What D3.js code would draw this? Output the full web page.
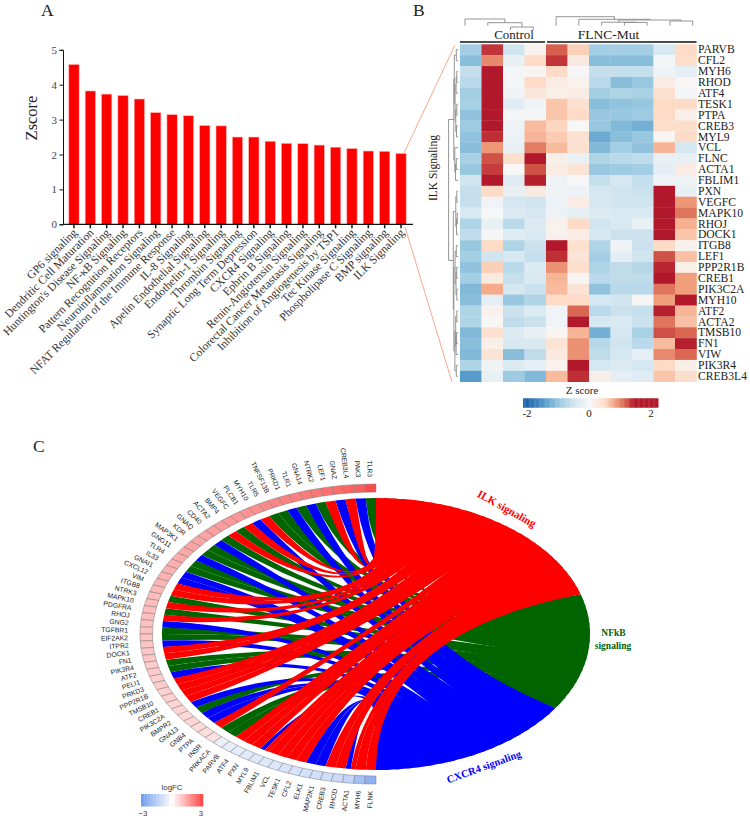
<!DOCTYPE html>
<html><head><meta charset="utf-8">
<script src="https://cdnjs.cloudflare.com/ajax/libs/d3/7.8.5/d3.min.js"></script>
<style>html,body{margin:0;padding:0;background:#fff}svg{display:block}</style>
</head><body><svg id="c" width="750" height="819"></svg>
<script>
// ---------- Panel A data ----------
const pathways = ["GP6 signaling","Dendritic Cell Maturation","Huntington's Disease Signaling","NF-κB Signaling","Pattern Recognition Receptors","Neuroinflammation Signaling","NFAT Regulation of the Immune Response","IL-8 Signaling","Apelin Endothelial Signaling","Endothelin-1 Signaling","Thrombin Signaling","Synaptic Long Term Depression","CXCR4 Signaling","Ephrin B Signaling","Renin-Angiotensin Signaling","Colorectal Cancer Metastasis Signaling","Inhibition of Angiogenesis by TSP1","Tec Kinase Signaling","Phospholipase C Signaling","BMP signaling","ILK Signaling"];
const zscores = [4.58,3.82,3.73,3.69,3.59,3.2,3.14,3.11,2.83,2.82,2.5,2.5,2.38,2.32,2.31,2.27,2.21,2.17,2.1,2.09,2.03];
// ---------- Panel B data ----------
const heatGenes = ["PARVB","CFL2","MYH6","RHOD","ATF4","TESK1","PTPA","CREB3","MYL9","VCL","FLNC","ACTA1","FBLIM1","PXN","VEGFC","MAPK10","RHOJ","DOCK1","ITGB8","LEF1","PPP2R1B","CREB1","PIK3C2A","MYH10","ATF2","ACTA2","TMSB10","FN1","VIW","PIK3R4","CREB3L4"];
const heatValues = [
[-.9,1.8,-.5,.1,1.5,.6,-.9,-.9,-.9,-.4,.5],
[-1.1,1.2,-.2,.5,1.8,.25,-1.1,-1.1,-1.1,-.05,.45],
[-.6,2.2,-.05,.05,.5,0,-.6,-.6,-.6,-.1,-.25],
[-.7,2.2,-.05,.5,.2,.1,-.7,-1.1,-1,.2,.02],
[-.9,2.2,-.1,.3,.15,.2,-.9,-.8,-.85,.4,-.05],
[-.85,2.2,-.3,-.1,.7,.4,-1.1,-1.05,-1,.5,.5],
[-1.05,2.2,-.05,-.05,.7,.5,-1,-1,-.95,.5,.15],
[-.95,2.2,-.15,.8,.55,0,-1,-1.15,-1.25,.45,.45],
[-1.05,1.85,-.15,.85,.65,.4,-1.3,-1.1,-1,.05,.5],
[-1.1,1.1,-.2,1.3,.8,.4,-1.15,-.9,-1.05,.85,-.45],
[-.85,1.6,.45,2.1,.15,-.2,-.8,-.7,-.65,-.2,-.2],
[-1,1.75,0,1.6,.2,.35,-1,-.95,-.9,-.25,.2],
[-.5,2.1,-.3,1.95,-.1,0,-.6,-.45,-.6,-.1,-.1],
[-.6,.5,-.2,.25,-.1,-.15,-.45,-.5,-.55,2.2,-.2],
[-.6,-.1,-.45,-.5,-.15,.2,-.45,-.5,-.5,2.2,1.1],
[-.4,-.02,-.35,-.45,-.15,-.25,-.35,-.4,-.4,2.2,1.35],
[-.8,-.2,-.7,-.35,.12,.5,-.5,-.4,-.2,2.2,.9],
[-.65,-.05,-.3,-.4,.1,.2,-.45,-.55,-.55,2.2,.7],
[-1,.5,-.8,-.55,2.2,.4,-.8,-.1,-.55,.5,.1],
[-.9,-.5,-.4,-.6,1.85,.35,-.9,-.25,-.5,1.6,.75],
[-1.05,.6,-.7,-.35,1.15,.45,-.8,-.65,-.75,1.9,.15],
[-.9,.25,-.6,-.4,.85,.05,-.7,-.65,-.65,2.1,1.05],
[-1.15,.95,-.45,-.55,.8,.35,-1.05,-.7,-.7,1.35,1.05],
[-1.1,-.25,-1,-.8,.5,.5,-.45,-.5,.03,1.05,2.1],
[-.8,.1,-.55,-.35,-.1,1.45,-.7,-.55,-.6,1.95,.85],
[-.8,.02,-.65,-.55,-.1,2.2,-.45,-.4,-.55,1.35,.75],
[-1.15,.4,-.35,-.2,.05,.85,-1.25,-.45,-.85,1.6,1.45],
[-1.1,.15,-.4,-.4,.35,1.15,-.75,-.5,-.7,.8,1.95],
[-1.15,.35,-1.1,-.65,.25,1.15,-.65,-.45,-.25,1.2,1.45],
[-.8,-.1,-.35,-.25,.1,2.1,-.45,-.35,-.45,.5,.15],
[-1.45,-.2,-.95,-1.15,.8,1.85,.15,-.25,-.3,.7,.45]];
const heatStops = [-2,-1.5,-1,-.5,0,.5,1,1.5,2];
const legendStops = [-2,-1.5,-1,-.5,0,.5,.8,1.15,1.42];
const heatColors = ["#2166ac","#4f97c7","#98c8e0","#d1e5f0","#f7f7f7","#fddbc7","#f4a582","#d6604d","#b2182b"];
const colGroups = [["Control",0,3],["FLNC-Mut",4,10]];
// linkage tables: [childA, childB, height]; a child >= leaf count refers to an earlier merge
const topLeafH = [4.3,4.3,0,0,4.3,4.3,4.3,4.3,4.3,4.3,4.3];
const topMerges = [[2,3,3],[1,11,7.3],[0,12,11],[7,8,7.5],[6,14,7.8],[9,10,9],[15,16,10],[5,17,10.7],[4,18,13.3]];
const leftMerges = [[0,1,3],[2,3,2.5],[32,4,3.2],[5,6,2.5],[7,8,2.8],[34,35,3.5],[33,36,4.2],[31,37,5],[10,11,3],[39,12,3.8],[9,40,4.5],[38,41,5.5],
 [13,14,2.5],[15,16,2],[44,17,2.8],[43,45,3.5],
 [18,19,3],[20,21,2.6],[22,23,2.5],[48,49,3.3],[47,50,4.2],[24,25,2.5],[26,27,2.8],[53,28,3.2],[52,54,3.6],[29,30,3],[55,56,4.4],[51,57,5.4],
 [46,58,6],[42,59,10.7]];
// ---------- Panel C data ----------
const genes = ["TLR3","PAK3","CREB3L4","GNAZ","LEF1","NTRK2","GNA14","TLR1","PRKD1","TNFSF13B","TLR5","MYH10","PLCB1","VEGFC","BMP4","ACTA2","CD40","GNAQ","KDR","MAP3K1","GNG11","TLR4","IL33","GNAI1","CXCL12","VIM","ITGB8","NTRK3","MAPK10","PDGFRA","RHOJ","GNG2","TGFBR1","EIF2AK2","ITPR2","DOCK1","FN1","PIK3R4","ATF2","PELI1","PRKD3","PPP2R1B","TMSB10","CREB1","PIK3C2A","BMPR2","GNA13","GNB4","PTPA","INSR","PRKACA","PARVB","ATF4","PXN","MYL9","FBLIM1","VCL","TESK1","CFL2","ELK1","MAP2K1","CREB3","RHOD","ACTA1","MYH6","FLNK"];
const logFC = [2.9,2.6,2.5,2.4,2.3,2.2,2.15,2.05,2,1.95,1.9,1.8,1.75,1.7,1.65,1.6,1.55,1.5,1.45,1.45,1.4,1.35,1.3,1.25,1.25,1.2,1.15,1.1,1.1,1.05,1.05,1,1,.95,.95,.9,.9,.85,.85,.8,.8,.75,.75,.7,.7,.65,.65,.6,.55,.5,-.45,-.5,-.55,-.6,-.65,-.7,-.75,-.8,-.85,-.9,-.95,-1,-1.1,-1.25,-1.9,-2.3];
const geneTerms = ["N","X","I","X","I","N","X","N","X","N","N","I","X","I","N","I","N","X","N","N","X","N","N","X","X","I","I","N","I","N","I","X","N","N","X","I","I","N","N","X","I","I","I","I","X","N","X","X","I","N","N","I","I","I","XI","I","I","I","I","X","X","I","I","XI","I","I"];
const terms = ["I","N","X"];
const termNames = {I:"ILK signaling",N:"NFkB signaling",X:"CXCR4 signaling"};
const termColors = {I:"#ff0000",N:"#006400",X:"#0000ff"};
const termSpanDeg = [73,50,57];
const fcDomain = [-3,0,3], fcColors = ["#6f9bee","#ffffff","#fb4545"];
const ribbonOverlap = 0.22; // term-end width, in memberships, shared with the neighbouring ribbons

const svg = d3.select("#c");
const SERIF = "'Liberation Serif','Times New Roman',serif", SANS = "'Liberation Sans',Arial,sans-serif";
function letter(t,x,y){svg.append("text").attr("x",x).attr("y",y).attr("font-family",SERIF).attr("font-size",17.5).attr("fill","#222").text(t);}
letter("A",41,16); letter("B",413,16); letter("C",33,452);

// ---------- Panel A ----------
const xA = d3.scaleBand().domain(pathways).range([65.8,409.2]).paddingInner(.37).paddingOuter(.185);
const yA = d3.scaleLinear().domain([0,5]).range([224.3,49.8]);
const gA = svg.append("g");
gA.selectAll("rect").data(pathways).join("rect")
 .attr("x",d=>xA(d)).attr("width",xA.bandwidth())
 .attr("y",(d,i)=>yA(zscores[i])).attr("height",(d,i)=>yA(0)-yA(zscores[i]))
 .attr("fill","#ff0000").attr("stroke","#ffb0b0").attr("stroke-width",.6);
const axX = gA.append("g").attr("transform",`translate(0,${yA(0)})`).call(d3.axisBottom(xA).tickSize(4).tickSizeOuter(0));
axX.select(".domain").attr("d","M63,0H413").attr("stroke","#111").attr("stroke-width",1.3);
axX.selectAll(".tick line").attr("stroke","#111").attr("stroke-width",1.5);
axX.selectAll(".tick text").attr("font-family",SERIF).attr("font-size",11.6).attr("fill","#333")
 .attr("text-anchor","end").attr("dy",0).attr("y",0).attr("x",0)
 .attr("transform","translate(4,9) rotate(-45)");
const axY = gA.append("g").attr("transform","translate(63,0)").call(d3.axisLeft(yA).ticks(5).tickSize(3.5).tickFormat(d3.format("d")));
axY.select(".domain").attr("stroke","#111").attr("stroke-width",1);
axY.selectAll(".tick line").attr("stroke","#111");
axY.selectAll(".tick text").attr("font-family",SERIF).attr("font-size",11).attr("fill","#444").attr("x",-6);
gA.append("text").attr("transform","translate(37,118) rotate(-90)").attr("text-anchor","middle")
 .attr("font-family",SERIF).attr("font-size",16.5).attr("fill","#222").text("Zscore");

// connectors
const connLine = d3.line();
[[[404,153],[455,45]],[[405,227],[452,382]]].forEach(p=>svg.append("path").attr("d",connLine(p)).attr("fill","none").attr("stroke","#f7a988").attr("stroke-width",1));

// ---------- Panel B ----------
const cols = d3.range(11);
const xH = d3.scaleBand().domain(cols).range([460,696.5]);
const yH = d3.scaleBand().domain(heatGenes).range([44.3,381.7]);
const heat = d3.scaleLinear().domain(heatStops).range(heatColors).clamp(true);
const gH = svg.append("g");
heatValues.forEach((row,r)=>row.forEach((v,c)=>{
 gH.append("rect").attr("x",xH(c)).attr("y",yH(heatGenes[r])).attr("width",xH.bandwidth()+.3).attr("height",yH.bandwidth()+.3).attr("fill",heat(v));
}));
gH.selectAll("text.g").data(heatGenes).join("text").attr("class","g")
 .attr("x",698).attr("y",d=>yH(d)+yH.bandwidth()/2+3.7).attr("font-family",SERIF).attr("font-size",11.6).attr("fill","#222").text(d=>d);
const groupX = d3.scaleLinear().domain([0,11]).range([460,696.5]);
colGroups.forEach(([n,a,b])=>{
 gH.append("line").attr("x1",groupX(a)+(a?1:0)).attr("x2",groupX(b+1)-(a?0:1)).attr("y1",42).attr("y2",42).attr("stroke","#111").attr("stroke-width",1.4);
 gH.append("text").attr("x",a?608.5:514).attr("y",38.5).attr("text-anchor","middle").attr("font-family",SERIF).attr("font-size",a?13.5:13).attr("fill","#222").text(n);
});
gH.append("text").attr("transform","translate(437,168) rotate(-90)").attr("text-anchor","middle").attr("font-family",SERIF).attr("font-size",11.5).attr("fill","#222").text("ILK Signaling");

function dendro(merges,leafCount,leafPos,leafH,draw){
 const nodes=[];
 for(let i=0;i<leafCount;i++)nodes.push({p:leafPos(i),h:leafH(i)});
 merges.forEach(([a,b,h])=>{
  const A=nodes[a],B=nodes[b];
  draw(A,B,h);
  nodes.push({p:(A.p+B.p)/2,h});
 });
}
const dTopX = d3.scaleLinear().domain([0,10]).range([465,692.7]);
const dTopY = d3.scaleLinear().domain([0,10]).range([30,20]);
const gD = svg.append("g").attr("fill","none").attr("stroke","#8a8a8a").attr("stroke-width",.9);
dendro(topMerges,11,i=>dTopX(i),i=>topLeafH[i],(A,B,h)=>{
 gD.append("path").attr("d",d3.line()([[A.p,dTopY(A.h)],[A.p,dTopY(h)],[B.p,dTopY(h)],[B.p,dTopY(B.h)]]));
});
const dLeftX = d3.scaleLinear().domain([0,10]).range([459.3,449.3]);
const rowC = i=>yH(heatGenes[i])+yH.bandwidth()/2;
dendro(leftMerges,31,rowC,()=>1.2,(A,B,h)=>{
 gD.append("path").attr("d",d3.line()([[dLeftX(A.h),A.p],[dLeftX(h),A.p],[dLeftX(h),B.p],[dLeftX(B.h),B.p]]));
});

// Z legend
const legX = d3.scaleLinear().domain([-2,2]).range([527,651]);
const legColor = d3.scaleLinear().domain(legendStops).range(heatColors).clamp(true);
const legVals = d3.range(-2.13,2.2,.04);
svg.append("g").selectAll("rect").data(legVals).join("rect")
 .attr("x",d=>legX(d)).attr("width",1.6).attr("y",398.3).attr("height",9.4).attr("fill",d=>legColor(d));
svg.append("text").attr("x",582).attr("y",394).attr("text-anchor","middle").attr("font-family",SERIF).attr("font-size",11).attr("fill","#222").text("Z score");
svg.append("g").selectAll("text").data([-2,0,2]).join("text").attr("x",d=>legX(d)).attr("y",417).attr("text-anchor","middle")
 .attr("font-family",SERIF).attr("font-size",11).attr("fill","#222").text(d=>d);

// ---------- Panel C ----------
const cx=376, cy=634, sx=214/136;
const gC = svg.append("g").attr("transform",`translate(${cx},${cy}) scale(${sx},1)`);
const geneAngle = d3.scaleLinear().domain([0,genes.length]).range([0,-Math.PI]);
const deg = d3.scaleLinear().domain([0,180]).range([0,Math.PI]);
const fcColor = d3.scaleLinear().domain(fcDomain).range(fcColors).clamp(true);
// memberships
const links=[];
genes.forEach((g,i)=>{const t=geneTerms[i].split("");t.forEach((k,j)=>links.push({i,term:k,f0:j/t.length,f1:(j+1)/t.length}));});
let acc=0;
terms.forEach((t,ti)=>{
 const ms=links.filter(l=>l.term===t);
 const sc=d3.scaleLinear().domain([0,ms.length]).range([deg(acc),deg(acc+termSpanDeg[ti])]).clamp(true);
 ms.forEach((l,j)=>{l.t0=sc(j-ribbonOverlap);l.t1=sc(j+1+ribbonOverlap);});
 acc+=termSpanDeg[ti];
});
const ribbon = d3.ribbon();
["N","X","I"].forEach(t=>{
 gC.append("g").selectAll("path").data(links.filter(l=>l.term===t)).join("path")
  .attr("fill",termColors[t])
  .attr("d",l=>ribbon({source:{startAngle:geneAngle(l.i+l.f1),endAngle:geneAngle(l.i+l.f0),radius:136},target:{startAngle:l.t0,endAngle:l.t1,radius:136}}));
});
const arc = d3.arc().innerRadius(142).outerRadius(150);
gC.append("g").selectAll("path").data(genes).join("path")
 .attr("d",(g,i)=>arc({startAngle:geneAngle(i+1),endAngle:geneAngle(i)}))
 .attr("fill",(g,i)=>fcColor(logFC[i])).attr("stroke","#7a7a7a").attr("stroke-width",.5).attr("vector-effect","non-scaling-stroke");
svg.append("g").selectAll("text").data(genes).join("text")
 .attr("transform",(g,i)=>{const a=geneAngle(i+.5);const x=cx+248*Math.sin(a),y=cy-157*Math.cos(a);return `translate(${x},${y}) rotate(${90+a*180/Math.PI})`;})
 .attr("text-anchor","end").attr("dy","0.35em").attr("font-family",SANS).attr("font-size",6.8).attr("fill","#222").text(g=>g);
function termLabel(t,x,y,r,s,c){svg.append("text").attr("transform",`translate(${x},${y}) rotate(${r})`).attr("text-anchor","middle").attr("font-family",SERIF).attr("font-weight","bold").attr("font-size",s).attr("fill",c).text(t);}
termLabel(termNames.I,505,512,29,11,termColors.I);
const nf=termNames.N.split(" ");
termLabel(nf[0],613.5,636,0,9.5,termColors.N);
termLabel(nf[1],613,649,0,9.5,termColors.N);
termLabel(termNames.X,485,770,-20,10.5,termColors.X);

// logFC legend
const fcX = d3.scaleLinear().domain([-3,3]).range([141,203]);
const fcLeg = [-3,-2.7,-2.4,-2.1,-1.8,-1.5,-1.2,-.9,-.6,-.3,0,.3,.6,.9,1.2,1.5,1.8,2.1,2.4,2.7];
svg.append("g").selectAll("rect").data(fcLeg).join("rect")
 .attr("x",d=>fcX(d)).attr("width",fcX(.3)-fcX(0)+.3).attr("y",794).attr("height",12.5).attr("fill",d=>fcColor(d+.15));
svg.append("text").attr("x",172).attr("y",790).attr("text-anchor","middle").attr("font-family",SANS).attr("font-size",7.8).attr("fill","#333").text("logFC");
svg.append("g").selectAll("text").data([-3,3]).join("text").attr("x",d=>d<0?143:201).attr("y",816).attr("text-anchor","middle")
 .attr("font-family",SANS).attr("font-size",7.8).attr("fill","#333").text(d=>d<0?"−3":"3");
</script></body></html>
